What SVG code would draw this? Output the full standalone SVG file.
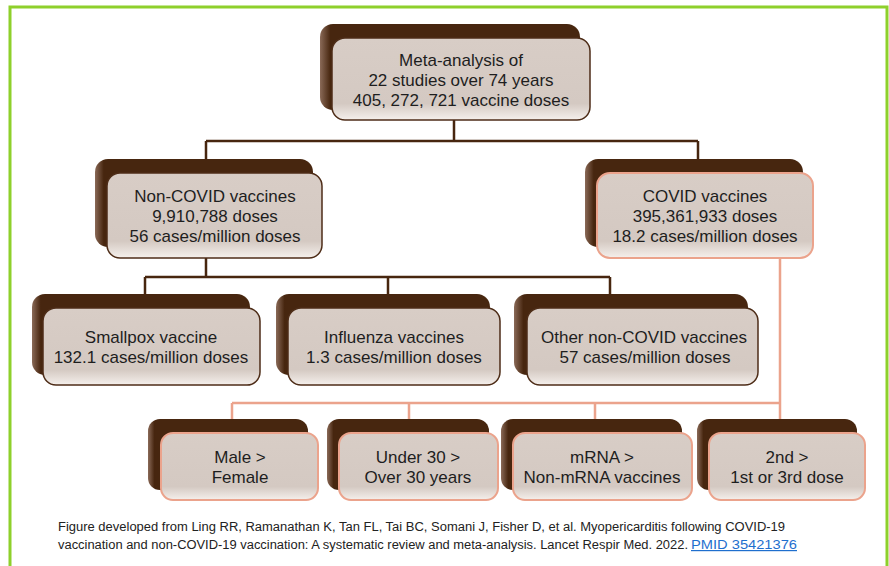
<svg xmlns="http://www.w3.org/2000/svg" width="889" height="566" viewBox="0 0 889 566">
<defs>
<linearGradient id="gBack" x1="0" y1="0" x2="1" y2="0">
<stop offset="0" stop-color="#8a6a58"/>
<stop offset="0.04" stop-color="#47260f"/>
<stop offset="1" stop-color="#47260f"/>
</linearGradient>
<linearGradient id="gFront" x1="0" y1="0" x2="0" y2="1">
<stop offset="0" stop-color="#d8cdc6"/>
<stop offset="0.8" stop-color="#d4c9c2"/>
<stop offset="1" stop-color="#f5f0ec"/>
</linearGradient>
<style>
.back{fill:url(#gBack);}
.front{fill:url(#gFront);stroke:#4e2d18;stroke-width:1.5;}
.front.c{stroke:#eba38c;stroke-width:2;}
.t{font-family:"Liberation Sans",Arial,sans-serif;font-size:17px;fill:#1e1e1e;text-anchor:middle;}
.cap{font-family:"Liberation Sans",Arial,sans-serif;font-size:12px;fill:#222;}
.br{stroke:#47260f;stroke-width:2.5;fill:none;}
.sa{stroke:#eba38c;stroke-width:2.5;fill:none;}
.frame{stroke:#8ed02b;stroke-width:3;fill:none;}
</style>
</defs>
<rect width="889" height="566" fill="#fff"/>
<path class="frame" d="M10,566 V7 H887 V566"/>
<g id="connectors">
<path class="br" d="M454,120 V141 M206,141 H698 M206,141 V159 M698,141 V159"/>
<path class="br" d="M206,258 V277 M145,277 H610 M145,277 V294 M388,277 V294 M610,277 V294"/>
<path class="sa" d="M780,258 V419 M232,403 H780 M232,403 V419 M409,403 V419 M595,403 V419"/>
</g>
<g id="meta">
<rect class="back" x="320" y="24" width="260" height="86" rx="13"/>
<rect class="front" x="332" y="38" width="258" height="82" rx="13"/>
<text class="t" x="461" y="66">Meta-analysis of</text>
<text class="t" x="461" y="86">22 studies over 74 years</text>
<text class="t" x="461" y="106">405, 272, 721 vaccine doses</text>
</g>
<g id="noncovid">
<rect class="back" x="95" y="159" width="218" height="88" rx="13"/>
<rect class="front" x="107" y="173" width="215" height="85" rx="13"/>
<text class="t" x="215" y="202">Non-COVID vaccines</text>
<text class="t" x="215" y="222">9,910,788 doses</text>
<text class="t" x="215" y="242">56 cases/million doses</text>
</g>
<g id="covid">
<rect class="back" x="585" y="159" width="218" height="88" rx="13"/>
<rect class="front c" x="597" y="173" width="216" height="85" rx="13"/>
<text class="t" x="705" y="202">COVID vaccines</text>
<text class="t" x="705" y="222">395,361,933 doses</text>
<text class="t" x="705" y="242">18.2 cases/million doses</text>
</g>
<g id="smallpox">
<rect class="back" x="32" y="294" width="218" height="81" rx="13"/>
<rect class="front" x="43" y="308" width="217" height="77" rx="13"/>
<text class="t" x="151" y="343">Smallpox vaccine</text>
<text class="t" x="151" y="363">132.1 cases/million doses</text>
</g>
<g id="influenza">
<rect class="back" x="276" y="294" width="214" height="81" rx="13"/>
<rect class="front" x="288" y="308" width="212" height="77" rx="13"/>
<text class="t" x="394" y="343">Influenza vaccines</text>
<text class="t" x="394" y="363">1.3 cases/million doses</text>
</g>
<g id="other">
<rect class="back" x="514" y="294" width="234" height="81" rx="13"/>
<rect class="front" x="527" y="308" width="231" height="77" rx="13"/>
<text class="t" x="644" y="343">Other non-COVID vaccines</text>
<text class="t" x="645" y="363">57 cases/million doses</text>
</g>
<g id="male">
<rect class="back" x="148" y="419" width="160" height="71" rx="12"/>
<rect class="front c" x="161" y="433" width="157" height="67" rx="12"/>
<text class="t" x="240" y="463">Male &gt;</text>
<text class="t" x="240" y="483">Female</text>
</g>
<g id="under30">
<rect class="back" x="327" y="419" width="162" height="71" rx="12"/>
<rect class="front c" x="339" y="433" width="159" height="67" rx="12"/>
<text class="t" x="418" y="463">Under 30 &gt;</text>
<text class="t" x="418" y="483">Over 30 years</text>
</g>
<g id="mrna">
<rect class="back" x="501" y="419" width="181" height="71" rx="12"/>
<rect class="front c" x="513" y="433" width="179" height="67" rx="12"/>
<text class="t" x="602" y="463">mRNA &gt;</text>
<text class="t" x="602" y="483">Non-mRNA vaccines</text>
</g>
<g id="dose">
<rect class="back" x="697" y="419" width="160" height="71" rx="12"/>
<rect class="front c" x="709" y="433" width="156" height="67" rx="12"/>
<text class="t" x="787" y="463">2nd &gt;</text>
<text class="t" x="787" y="483">1st or 3rd dose</text>
</g>
<g id="caption">
<text class="cap" x="58" y="531" textLength="727" lengthAdjust="spacingAndGlyphs">Figure developed from Ling RR, Ramanathan K, Tan FL, Tai BC, Somani J, Fisher D, et al. Myopericarditis following COVID-19</text>
<text class="cap" x="58" y="549" textLength="630" lengthAdjust="spacingAndGlyphs">vaccination and non-COVID-19 vaccination: A systematic review and meta-analysis. Lancet Respir Med. 2022.</text>
<text class="cap" x="691" y="549" style="fill:#1f6fce;text-decoration:underline" textLength="106" lengthAdjust="spacingAndGlyphs">PMID 35421376</text>
</g>
</svg>
